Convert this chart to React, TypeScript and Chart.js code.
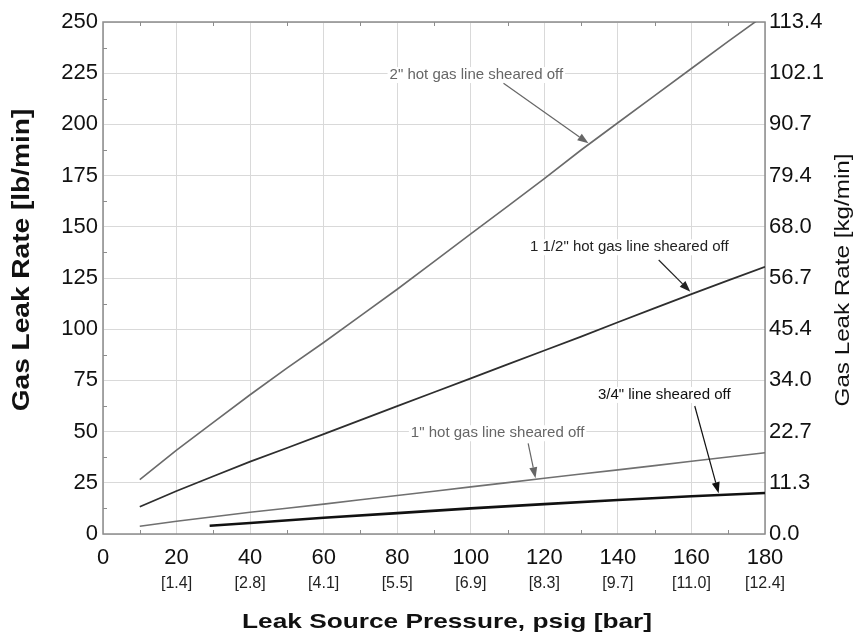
import React, { useEffect, useRef } from 'react';
import { Chart, registerables } from 'chart.js';

Chart.register(...registerables);

// Axis tick labels
const psigTicks = [0, 20, 40, 60, 80, 100, 120, 140, 160, 180];
const barTicks = ['', '[1.4]', '[2.8]', '[4.1]', '[5.5]', '[6.9]', '[8.3]', '[9.7]', '[11.0]', '[12.4]'];
const lbTicks = [0, 25, 50, 75, 100, 125, 150, 175, 200, 225, 250];
const kgTicks = ['0.0', '11.3', '22.7', '34.0', '45.4', '56.7', '68.0', '79.4', '90.7', '102.1', '113.4'];

// Series data (psig -> lb/min)
const psig = [10, 20, 30, 40, 50, 60, 70, 80, 90, 100, 110, 120, 130, 140, 150, 160, 170, 180];
const rate2in = [26.5, 41, 54.5, 68, 81, 93.5, 106.5, 119.5, 133, 146.5, 160, 173.5, 187.5, 200.8, 214, 227.3, 240.5, 253.5];
const rate15in = [13.3, 21, 28.2, 35.3, 42, 48.8, 55.6, 62.4, 69.2, 76, 82.8, 89.6, 96.4, 103.4, 110.3, 117.1, 123.8, 130.5];
const rate1in = [3.8, 6.2, 8.4, 10.6, 12.6, 14.6, 16.7, 18.8, 20.9, 23, 25.1, 27.2, 29.3, 31.3, 33.4, 35.5, 37.6, 39.7];
const psig34 = [29, 40, 60, 80, 100, 120, 140, 160, 180];
const rate34in = [4.0, 5.4, 7.9, 10.2, 12.5, 14.6, 16.6, 18.4, 20.0];

// Annotations (data coordinates)
const noteTexts = ['2" hot gas line sheared off', '1 1/2" hot gas line sheared off', '3/4" line sheared off', '1" hot gas line sheared off'];
const noteX = [101.5, 143.1, 152.6, 107.3];
const noteY = [224.1, 140, 67.9, 49.2];
const arrowFromX = [108.9, 151.1, 160.9, 115.6];
const arrowFromY = [220.1, 133.8, 62.5, 44.3];
const arrowToX = [132.0, 159.7, 167.4, 117.6];
const arrowToY = [190.8, 118.3, 19.9, 27.2];
const noteColors = ['#666666', '#222222', '#111111', '#666666'];

const FONT = '"Liberation Sans", Arial, Helvetica, sans-serif';

const toPts = (xs: number[], ys: number[]) => xs.map((x, i) => ({ x, y: ys[i] }));

function stretchedText(ctx: CanvasRenderingContext2D, text: string, cx: number, cy: number, font: string, color: string, stretch: number, rotate: boolean) {
  ctx.save();
  ctx.translate(cx, cy);
  if (rotate) ctx.rotate(-Math.PI / 2);
  ctx.scale(stretch, 1);
  ctx.font = font;
  ctx.fillStyle = color;
  ctx.textAlign = 'center';
  ctx.textBaseline = 'middle';
  ctx.fillText(text, 0, 0);
  ctx.restore();
}

const decor = {
  id: 'decor',
  beforeDraw(chart: any) {
    const { ctx, width, height } = chart;
    ctx.save();
    ctx.fillStyle = '#ffffff';
    ctx.fillRect(0, 0, width, height);
    ctx.restore();
  },
  beforeDatasetsDraw(chart: any) {
    const { ctx, chartArea } = chart;
    const { left, right, top, bottom } = chartArea;
    const xs = chart.scales.x;
    const ys = chart.scales.y;
    ctx.save();
    ctx.strokeStyle = '#8c8c8c';
    ctx.lineWidth = 1.5;
    ctx.strokeRect(left, top, right - left, bottom - top);
    ctx.lineWidth = 1;
    ctx.beginPath();
    for (let v = 10; v < 180; v += 20) {
      const p = Math.round(xs.getPixelForValue(v)) + 0.5;
      ctx.moveTo(p, bottom);
      ctx.lineTo(p, bottom - 4);
      ctx.moveTo(p, top);
      ctx.lineTo(p, top + 4);
    }
    for (let v = 12.5; v < 250; v += 25) {
      const p = Math.round(ys.getPixelForValue(v)) + 0.5;
      ctx.moveTo(left, p);
      ctx.lineTo(left + 4, p);
    }
    ctx.stroke();
    ctx.restore();
  },
  afterDatasetsDraw(chart: any) {
    const { ctx } = chart;
    const xs = chart.scales.x;
    const ys = chart.scales.y;
    ctx.save();
    noteTexts.forEach((t, i) => {
      const color = noteColors[i];
      const px = xs.getPixelForValue(noteX[i]);
      const py = ys.getPixelForValue(noteY[i]);
      ctx.font = '15px ' + FONT;
      const w = ctx.measureText(t).width;
      ctx.fillStyle = '#ffffff';
      ctx.fillRect(px - w / 2 - 2, py - 8, w + 4, 16);
      ctx.fillStyle = color;
      ctx.textAlign = 'center';
      ctx.textBaseline = 'middle';
      ctx.fillText(t, px, py);
      // arrow
      const fx = xs.getPixelForValue(arrowFromX[i]);
      const fy = ys.getPixelForValue(arrowFromY[i]);
      const tx = xs.getPixelForValue(arrowToX[i]);
      const ty = ys.getPixelForValue(arrowToY[i]);
      const ang = Math.atan2(ty - fy, tx - fx);
      const hl = 11;
      const hw = 4;
      const bx = tx - hl * Math.cos(ang);
      const by = ty - hl * Math.sin(ang);
      ctx.strokeStyle = color;
      ctx.lineWidth = 1.2;
      ctx.beginPath();
      ctx.moveTo(fx, fy);
      ctx.lineTo(bx, by);
      ctx.stroke();
      ctx.beginPath();
      ctx.moveTo(tx, ty);
      ctx.lineTo(bx + hw * Math.sin(ang), by - hw * Math.cos(ang));
      ctx.lineTo(bx - hw * Math.sin(ang), by + hw * Math.cos(ang));
      ctx.closePath();
      ctx.fillStyle = color;
      ctx.fill();
    });
    ctx.restore();
  },
  afterDraw(chart: any) {
    const { ctx, chartArea, width, height } = chart;
    const { left, right, top, bottom } = chartArea;
    const midY = (top + bottom) / 2;
    stretchedText(ctx, 'Gas Leak Rate [lb/min]', 23, midY - 18, 'bold 23px ' + FONT, '#111111', 1.22, true);
    stretchedText(ctx, 'Gas Leak Rate [kg/min]', width - 12.5, midY + 2, '20px ' + FONT, '#111111', 1.21, true);
    stretchedText(ctx, 'Leak Source Pressure, psig [bar]', (left + right) / 2 + 13, height - 14.5, 'bold 21px ' + FONT, '#111111', 1.25, false);
  },
};

export default function App() {
  const ref = useRef<HTMLCanvasElement>(null);
  useEffect(() => {
    if (!ref.current) return;
    const gridColor = '#d9d9d9';
    const chart = new Chart(ref.current, {
      type: 'line',
      data: {
        datasets: [
          { label: '2"', data: toPts(psig, rate2in), borderColor: '#6a6a6a', borderWidth: 1.6, pointRadius: 0, tension: 0, fill: false },
          { label: '1 1/2"', data: toPts(psig, rate15in), borderColor: '#2e2e2e', borderWidth: 1.8, pointRadius: 0, tension: 0, fill: false },
          { label: '1"', data: toPts(psig, rate1in), borderColor: '#707070', borderWidth: 1.6, pointRadius: 0, tension: 0, fill: false },
          { label: '3/4"', data: toPts(psig34, rate34in), borderColor: '#111111', borderWidth: 2.6, pointRadius: 0, tension: 0, fill: false },
        ],
      },
      options: {
        responsive: false,
        animation: false,
        parsing: false as any,
        layout: { padding: { top: 22, left: 0, right: 0, bottom: 0 } },
        plugins: { legend: { display: false }, tooltip: { enabled: false }, title: { display: false } },
        scales: {
          x: {
            type: 'linear', position: 'bottom', min: 0, max: 180,
            grid: { color: gridColor, lineWidth: 1, drawTicks: false },
            border: { display: false },
            ticks: {
              stepSize: 20, autoSkip: false, maxRotation: 0, padding: 13, color: '#111111',
              font: { family: FONT, size: 22, lineHeight: 1 },
              callback: (v: any) => (psigTicks.includes(Number(v)) ? String(v) : ''),
            },
            afterFit: (s: any) => { s.height = 36; },
          },
          x2: {
            type: 'linear', position: 'bottom', min: 0, max: 180,
            grid: { display: false, drawTicks: false },
            border: { display: false },
            ticks: {
              stepSize: 20, autoSkip: false, maxRotation: 0, padding: 5.5, color: '#222222',
              font: { family: FONT, size: 16, lineHeight: 1 },
              callback: (v: any) => { const i = psigTicks.indexOf(Number(v)); return i >= 0 ? barTicks[i] : ''; },
            },
            afterFit: (s: any) => { s.height = 67; },
          },
          y: {
            type: 'linear', position: 'left', min: 0, max: 250,
            grid: { color: gridColor, lineWidth: 1, drawTicks: false },
            border: { display: false },
            ticks: {
              stepSize: 25, autoSkip: false, padding: 5, color: '#111111',
              font: { family: FONT, size: 22, lineHeight: 1 },
              callback: (v: any) => (lbTicks.includes(Number(v)) ? String(v) : ''),
            },
            afterFit: (s: any) => { s.width = 103; },
          },
          y2: {
            type: 'linear', position: 'right', min: 0, max: 250,
            grid: { display: false, drawTicks: false },
            border: { display: false },
            ticks: {
              stepSize: 25, autoSkip: false, padding: 4, color: '#111111',
              font: { family: FONT, size: 22, lineHeight: 1 },
              callback: (v: any) => { const i = lbTicks.indexOf(Number(v)); return i >= 0 ? kgTicks[i] : ''; },
            },
            afterFit: (s: any) => { s.width = 91; },
          },
        },
      } as any,
      plugins: [decor],
    });
    return () => chart.destroy();
  }, []);
  return (
    <canvas
      ref={ref}
      width={856}
      height={637}
      style={{ position: 'absolute', left: 0, top: 0, display: 'block', width: 856, height: 637 }}
    />
  );
}
